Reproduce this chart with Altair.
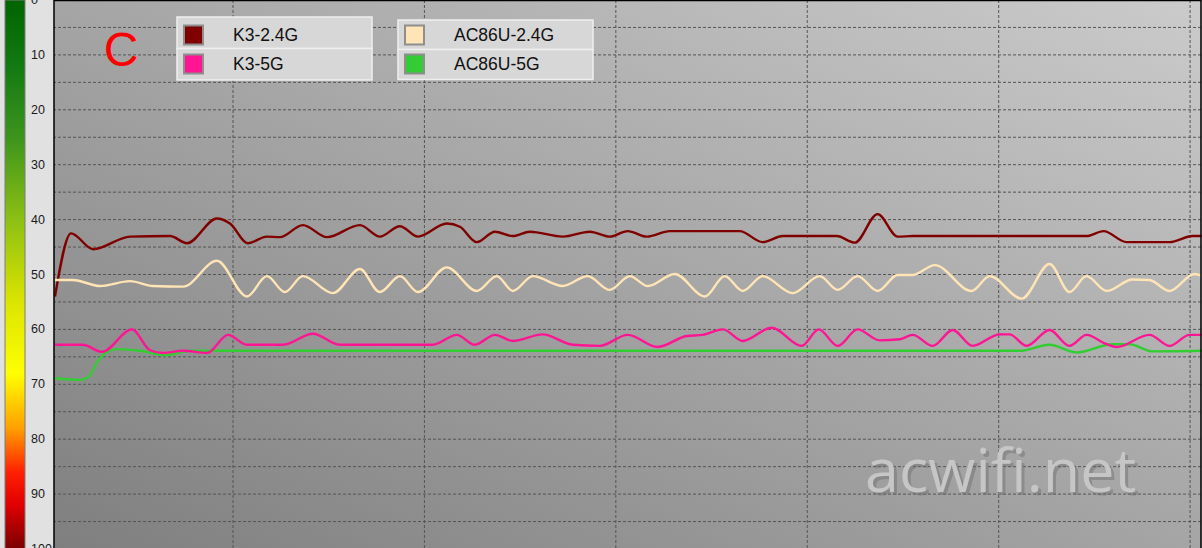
import altair as alt
import pandas as pd

# ---- series data: time (s) and signal level (0 = strongest, 100 = weakest) ----
series_names = ["K3-2.4G", "K3-5G", "AC86U-2.4G", "AC86U-5G"]
series_colors = ["#800000", "#ff1493", "#ffe4b5", "#32cd32"]

k3_24_t = [0.70, 1.54, 2.69, 4.62, 6.71, 7.60, 9.16, 9.84, 10.78, 11.77, 12.45, 13.65,
           14.91, 16.63, 17.67, 18.72, 19.66, 21.17, 21.85, 22.74, 23.68, 24.62, 25.51,
           27.23, 28.64, 29.68, 30.62, 31.62, 32.82, 36.47, 37.67, 38.72, 41.54, 42.48,
           43.68, 44.72, 45.51, 54.59, 55.48, 56.68, 58.93, 60.13, 60.60]
k3_24_v = [54.0, 42.5, 45.4, 43.1, 43.0, 44.3, 39.8, 40.7, 44.3, 43.1, 43.2, 41.0,
           43.2, 41.0, 43.1, 41.2, 43.1, 40.7, 41.3, 44.1, 42.2, 43.0, 42.2,
           43.1, 42.2, 43.1, 42.1, 43.1, 42.1, 42.1, 44.1, 43.0, 43.0, 44.2,
           39.0, 43.1, 43.0, 43.0, 42.1, 44.1, 44.1, 43.0, 43.0]

ac_24_t = [0.70, 1.64, 3.05, 4.62, 5.82, 7.39, 9.16, 10.73, 11.77, 12.71, 13.65, 15.22,
           16.63, 17.67, 18.72, 19.66, 21.17, 22.74, 23.78, 24.62, 25.66, 27.23, 28.53,
           29.68, 30.73, 31.67, 33.08, 34.65, 35.69, 36.63, 37.67, 39.24, 40.65, 41.59,
           42.63, 43.68, 44.72, 45.51, 46.66, 48.59, 49.53, 51.20, 52.66, 53.70, 54.59,
           55.64, 56.99, 57.88, 58.93, 60.23, 60.60]
ac_24_v = [51.0, 51.0, 52.1, 51.2, 52.1, 52.2, 47.5, 54.0, 50.3, 53.2, 50.3, 53.4,
           49.0, 53.2, 50.3, 53.2, 48.7, 53.0, 50.3, 53.0, 50.3, 52.1, 50.3,
           52.8, 50.3, 52.1, 49.9, 54.0, 50.3, 53.0, 50.3, 53.4, 50.3, 52.8,
           50.3, 53.0, 50.1, 50.1, 48.3, 53.0, 50.3, 54.4, 48.1, 53.2, 50.3,
           53.0, 50.9, 51.0, 53.0, 49.9, 50.2]

k3_5_t = [0.70, 2.16, 3.16, 4.72, 5.66, 6.34, 7.39, 8.64, 9.74, 10.73, 12.61, 14.17,
          15.58, 20.44, 21.69, 22.63, 23.68, 24.62, 26.18, 27.75, 29.16, 30.62, 32.19,
          33.71, 34.54, 35.59, 36.63, 38.14, 39.71, 40.60, 41.59, 42.63, 43.78, 44.83,
          45.51, 46.55, 47.60, 48.64, 50.05, 50.57, 51.46, 52.66, 53.70, 54.59, 55.64,
          56.16, 57.88, 58.93, 59.97, 60.60]
k3_5_v = [62.8, 62.8, 64.1, 60.0, 63.8, 64.3, 63.9, 64.3, 61.0, 62.8, 62.8, 60.8,
          62.8, 62.8, 61.0, 62.8, 61.0, 62.1, 60.9, 62.8, 63.0, 61.0, 63.2,
          61.2, 61.0, 60.0, 62.1, 59.7, 63.0, 60.0, 63.0, 60.0, 62.0, 61.8,
          61.0, 63.0, 60.1, 63.0, 60.9, 60.9, 63.0, 60.1, 63.0, 61.0, 62.7,
          63.2, 61.0, 63.0, 61.0, 61.0]

ac_5_t = [0.70, 2.01, 2.43, 2.90, 3.42, 3.94, 5.14, 6.45, 7.75, 51.09, 52.66, 54.07,
          55.95, 56.84, 58.04, 60.60]
ac_5_v = [68.9, 69.2, 68.7, 66.0, 64.1, 63.6, 63.9, 64.7, 63.9, 63.9, 62.8, 64.2,
          62.7, 62.7, 64.0, 63.9]

level_ticks = list(range(0, 101, 10))
grid_levels = list(range(5, 100, 5))
grid_times = [10, 20, 30, 40, 50, 60]

# ---- layout ----
W, H = 1147, 549
x_scale = alt.Scale(domain=[0.648, 60.57], nice=False, zero=False)
y_scale = alt.Scale(domain=[0, 100], reverse=True, nice=False, zero=False)
LABEL_FONT = "Liberation Sans"

rows = []
for name, ts, vs in [("K3-2.4G", k3_24_t, k3_24_v), ("AC86U-2.4G", ac_24_t, ac_24_v),
                     ("AC86U-5G", ac_5_t, ac_5_v), ("K3-5G", k3_5_t, k3_5_v)]:
    for t, v in zip(ts, vs):
        rows.append({"series": name, "t": t, "v": v})
lines_df = pd.DataFrame(rows)
one = pd.DataFrame({"k": [0]})

# plot background: diagonal grey gradient
background = alt.Chart(one).mark_rect(
    fill=alt.Gradient(gradient="linear", x1=0, y1=1, x2=1, y2=0,
                      stops=[alt.GradientStop(offset=0, color="#7f7f7f"),
                             alt.GradientStop(offset=1, color="#cbcbcb")])
).encode(x=alt.value(0), x2=alt.value(W), y=alt.value(0), y2=alt.value(H))

# signal colour bar on the left
colorbar = alt.Chart(one).mark_rect(
    fill=alt.Gradient(gradient="linear", x1=0, y1=0, x2=0, y2=1,
                      stops=[alt.GradientStop(offset=0.0, color="#006400"),
                             alt.GradientStop(offset=0.12, color="#127a12"),
                             alt.GradientStop(offset=0.25, color="#3c941c"),
                             alt.GradientStop(offset=0.4, color="#8cc014"),
                             alt.GradientStop(offset=0.55, color="#dce400"),
                             alt.GradientStop(offset=0.68, color="#ffff00"),
                             alt.GradientStop(offset=0.78, color="#ffa000"),
                             alt.GradientStop(offset=0.86, color="#ff2000"),
                             alt.GradientStop(offset=0.92, color="#e00000"),
                             alt.GradientStop(offset=1.0, color="#7a0000")]),
    stroke="#7c7c7c", strokeWidth=1
).encode(x=alt.value(-49), x2=alt.value(-29), y=alt.value(0), y2=alt.value(H))

level_labels = alt.Chart(pd.DataFrame({"lvl": level_ticks})).mark_text(
    align="left", baseline="middle", font=LABEL_FONT, fontSize=12.5, color="#1a1a1a"
).encode(y=alt.Y("lvl:Q", scale=y_scale, axis=None), x=alt.value(-23), text="lvl:Q")

hgrid = alt.Chart(pd.DataFrame({"g": grid_levels})).mark_rule(
    color="#555555", strokeDash=[3, 2], strokeWidth=1
).encode(y=alt.Y("g:Q", scale=y_scale, axis=None))

vgrid = alt.Chart(pd.DataFrame({"g": grid_times})).mark_rule(
    color="#555555", strokeDash=[3, 2], strokeWidth=1
).encode(x=alt.X("g:Q", scale=x_scale, axis=None))

lines = alt.Chart(lines_df).mark_line(interpolate="monotone", strokeWidth=2.4).encode(
    x=alt.X("t:Q", scale=x_scale, axis=None),
    y=alt.Y("v:Q", scale=y_scale, axis=None),
    color=alt.Color("series:N", scale=alt.Scale(domain=series_names, range=series_colors),
                    legend=None),
    detail="series:N",
)

# legend: two boxes of two rows each
legend_layers = []
entries = [("K3-2.4G", 0, 0), ("K3-5G", 0, 1), ("AC86U-2.4G", 1, 0), ("AC86U-5G", 1, 1)]
box_left = [123, 344]
box_top = [17, 20]
box_split = [48.5, 49.5]
box_bottom = [80, 79.5]
row_center = [35, 64]
for name, col, row in entries:
    color = series_colors[series_names.index(name)]
    x0 = box_left[col]
    top = box_top[col] if row == 0 else box_split[col]
    bottom = box_split[col] if row == 0 else box_bottom[col]
    cy = row_center[row]
    legend_layers.append(alt.Chart(one).mark_rect(
        fill="#d7d7d7", stroke="#efefef", strokeWidth=1.5
    ).encode(x=alt.value(x0), x2=alt.value(x0 + 195), y=alt.value(top), y2=alt.value(bottom)))
    legend_layers.append(alt.Chart(one).mark_rect(
        fill=color, stroke="#8e8e8e", strokeWidth=2
    ).encode(x=alt.value(x0 + 7), x2=alt.value(x0 + 26), y=alt.value(cy - 9.5),
             y2=alt.value(cy + 9.5)))
    legend_layers.append(alt.Chart(one).mark_text(
        text=name, align="left", baseline="middle", font=LABEL_FONT, fontSize=17.5,
        color="#111111"
    ).encode(x=alt.value(x0 + 56), y=alt.value(cy + 1)))

panel_tag = alt.Chart(one).mark_text(
    text="C", align="center", baseline="alphabetic", font="Liberation Sans",
    fontSize=48, color="#ff0000"
).encode(x=alt.value(67), y=alt.value(66))

watermark_shadow = alt.Chart(one).mark_text(
    text="acwifi.net", align="left", baseline="alphabetic", font="Open Sans",
    fontSize=61, color="#6e6e6e", opacity=0.45
).encode(x=alt.value(814), y=alt.value(495))
watermark = alt.Chart(one).mark_text(
    text="acwifi.net", align="left", baseline="alphabetic", font="Open Sans",
    fontSize=61, color="#c6c6c6"
).encode(x=alt.value(811), y=alt.value(492))

frame = alt.Chart(one).mark_rect(
    fillOpacity=0, stroke="#000000", strokeWidth=1.5
).encode(x=alt.value(0), x2=alt.value(W), y=alt.value(0.5), y2=alt.value(H))

chart = alt.layer(
    background, hgrid, vgrid, watermark_shadow, watermark, lines,
    *legend_layers, panel_tag, colorbar, level_labels, frame
).properties(
    width=W, height=H,
    autosize=alt.AutoSizeParams(type="none"),
    padding={"left": 54, "top": 0, "right": 1, "bottom": 0},
    background="#e1e1e1",
).configure_view(stroke=None)

chart.save("out.html", embed_options={"renderer": "svg", "actions": False})
